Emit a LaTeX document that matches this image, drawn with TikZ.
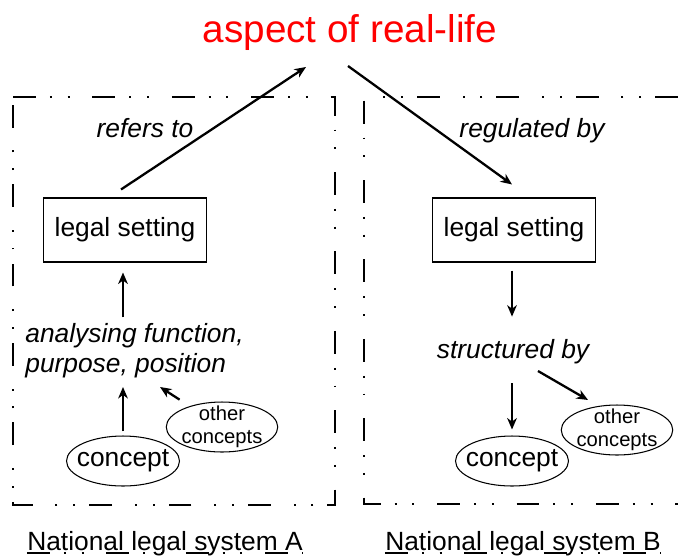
\documentclass[tikz,border=0pt]{standalone}
\usepackage{fontspec}
\setmainfont{Liberation Sans}
\usetikzlibrary{arrows.meta,calc,shapes.geometric}
\tikzset{
    arr/.style={-{Stealth[length=6.5pt,width=5.5pt,inset=2pt]},line width=1.3pt},
    frame/.style={line width=0.6pt,dash pattern=on 13pt off 8pt on 1.1pt off 9pt on 1.1pt off 13pt},
    setting/.style={draw,line width=0.6pt,minimum width=3.26cm,minimum height=1.28cm,inner sep=0pt,font=\fontsize{15}{17}\selectfont},
    lbl/.style={inner sep=0pt,font=\fontsize{15}{17}\selectfont\itshape},
    concept/.style={draw,ellipse,line width=0.6pt,inner xsep=-4pt,inner ysep=0pt,minimum width=2.26cm,minimum height=1cm,font=\fontsize{15}{17}\selectfont},
    others/.style={draw,ellipse,line width=0.6pt,inner xsep=-1pt,inner ysep=-2pt,minimum width=2.23cm,minimum height=1cm,align=center,font=\fontsize{11.5}{13}\selectfont},
    system/.style={inner sep=0pt,font=\fontsize{15}{17}\selectfont}
}
\begin{document}
\begin{tikzpicture}[x=0.02cm,y=-0.02cm]
            \useasboundingbox (0,0) rectangle (678,555);
            % frames of the two legal systems
            \draw[frame] (13,97) -- (335,97) -- (335,505) -- (13,505) -- cycle;
            \draw[frame] (678,97) -- (364,97) -- (364,504) -- (678,504);
            \node[anchor=base,inner sep=0pt,text=red,font=\fontsize{22}{26}\selectfont] (aspect) at (350,42) {aspect of real-life};
            % system A
            \node[lbl,anchor=base] (refA) at (145,137) {refers to};
            \node[setting] (A1) at (125,230) {legal setting};
            \node[lbl,anchor=west,align=left] (A2) at (25,351) {analysing function,\\purpose, position};
            \node[concept] (A3) at (123,461) {concept};
            \node[others] (A4) at (222,427) {other\\concepts};
            \node[system,anchor=base] (labA) at (165,550) {National legal system A};
            % system B
            \node[lbl,anchor=base] (refB) at (532,137) {regulated by};
            \node[setting] (B1) at (514,230) {legal setting};
            \node[lbl,anchor=base] (B2) at (513,358) {structured by};
            \node[concept] (B3) at (512,461) {concept};
            \node[others] (B4) at (617,430) {other\\concepts};
            \node[system,anchor=base] (labB) at (523,550) {National legal system B};
            % connectors
            \draw[arr] ($(A1.north)+(-4,-8)$) -- ($(aspect.base)+(-44,25)$);
            \draw[arr] ($(aspect.base)+(-2,24)$) -- ($(B1.north)+(-2,-13)$);
            \draw[arr,shorten <=3.4pt,shorten >=5.7pt] (A3.north |- A2.north) -- (A3.north |- A1.south);
            \draw[arr,shorten <=2.3pt,shorten >=4.8pt] (A3.north) -- (A3.north |- A2.south);
            \draw[arr,shorten <=6.8pt] (A4) -- ($(A4)+(-62,-40)$);
            \draw[arr,shorten <=4.6pt,shorten >=12.5pt] (B3.north |- B1.south) -- (B3.north |- B2.north);
            \draw[arr,shorten <=11.1pt,shorten >=3.4pt] (B3.north |- B2.south) -- (B3.north);
            \draw[arr] ($(B2.base)+(25,13)$) -- ($(B4.north)+(-29,-4.5)$);
            % underlines
            \draw[frame,line width=0.8pt] ($(labA.base west)+(0,3)$) -- ($(labA.base east)+(0,3)$);
            \draw[frame,line width=0.8pt] ($(labB.base west)+(0,3)$) -- ($(labB.base east)+(0,3)$);
        \end{tikzpicture}
\end{document}
